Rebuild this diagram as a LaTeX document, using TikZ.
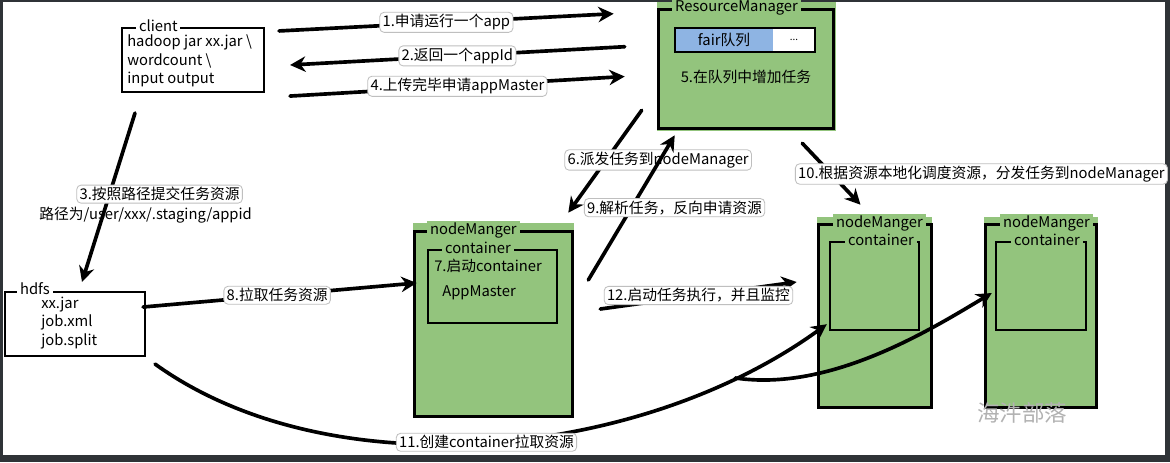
\documentclass[tikz,border=0pt]{standalone}
\usepackage{fontspec}
\setmainfont{Noto Sans CJK SC}
\usepackage{tikz}
\usetikzlibrary{arrows.meta,positioning,fit,calc}

\definecolor{nmgreen}{HTML}{93C47D}
\definecolor{qblue}{HTML}{8EB4E3}
\definecolor{framedark}{HTML}{2F3337}

\begin{document}
\begin{tikzpicture}[x=0.025cm, y=-0.025cm,
        txt/.style={inner sep=0pt, align=left, font=\fontsize{10.5}{13}\selectfont},
        ttl/.style={anchor=west, inner xsep=2pt, inner ysep=1pt, font=\fontsize{10.5}{12}\selectfont},
        plainbox/.style={draw=black, line width=1.5pt, inner sep=0pt},
        greenbg/.style={fill=nmgreen, inner sep=0pt},
        panelline/.style={draw=black, line width=2pt},
        cbox/.style={draw=black, line width=1.7pt, inner sep=0pt},
        qbox/.style={inner sep=0pt, outer sep=0pt, font=\fontsize{10.5}{12}\selectfont},
        lbl/.style={fill=white, draw=black!25, line width=0.6pt, rounded corners=3pt, inner xsep=2pt, inner ysep=1.5pt, font=\fontsize{10.5}{12}\selectfont},
        arrow/.style={-{Stealth[length=11pt,width=11pt]}, line width=2.6pt, line cap=round}
    ]

    \useasboundingbox (0,0) rectangle (1170,462);
    % frame of the screenshot
    \fill[framedark] (0,0) rectangle (1170,462);
    \fill[white] (3,2) rectangle (1165,455);

    % client (top left)
    \node[plainbox, fit={(122,28) (264,92)}] (client) {};
    \node[ttl, fill=white] (clientT) at (136,26) {client};
    \node[txt, anchor=west] (clientTxt) at (127,61) {hadoop jar xx.jar \textbackslash\\wordcount \textbackslash\\input output};

    % ResourceManager (top)
    \node[greenbg, fit={(657,2) (836,131)}] (rm) {};
    \draw[panelline] ([shift={(2,8)}]rm.north west) rectangle ([shift={(-3,-3)}]rm.south east);
    \node[ttl, fill=nmgreen] (rmT) at (672,8) {ResourceManager};
    \node[qbox, fill=qblue, minimum width=2.45cm, minimum height=0.6cm, anchor=north west] (fairq) at (675,28) {fair队列};
    \node[qbox, fill=white, minimum width=1.05cm, minimum height=0.6cm, right=0pt of fairq, font=\fontsize{7}{8}\selectfont] (qmore) {...};
    \draw[line width=1.6pt] (fairq.north west) rectangle (qmore.south east);
    \node[txt] (rmTask) at (746,77) {5.在队列中增加任务};

    % hdfs (left)
    \node[plainbox, fit={(5,292) (145,356)}] (hdfs) {};
    \node[ttl, fill=white] (hdfsT) at (17,289) {hdfs};
    \node[txt, anchor=west] (hdfsTxt) at (41,323) {xx.jar\\job.xml\\job.split};

    % nodeManager with AppMaster (middle)
    \node[greenbg, fit={(413,223) (574,417)}] (nm1) {};
    \draw[panelline] ([shift={(2,9)}]nm1.north west) rectangle ([shift={(-2,-1)}]nm1.south east);
    \node[ttl, fill=nmgreen] (nm1T) at (427,230) {nodeManger};
    \node[cbox, fit={(428,250) (557,323)}] (nm1c) {};
    \node[ttl, fill=nmgreen] (nm1cT) at (442,248) {container};
    \node[txt, anchor=west] (startAM) at (434,266) {7.启动container};
    \node[txt, anchor=west] (appMaster) at (442,293) {AppMaster};

    % second nodeManager
    \node[greenbg, fit={(817,217) (932,409)}] (nm2) {};
    \draw[panelline] ([shift={(2,8)}]nm2.north west) rectangle ([shift={(-1,-2)}]nm2.south east);
    \node[ttl, fill=nmgreen] (nm2T) at (833,223) {nodeManger};
    \node[cbox, fit={(830,242) (919,330)}] (nm2c) {};
    \node[ttl, fill=nmgreen] (nm2cT) at (845,240) {container};

    % third nodeManager
    \node[greenbg, fit={(984,217) (1098,409)}] (nm3) {};
    \draw[panelline] ([shift={(2,8)}]nm3.north west) rectangle ([shift={(-2,-2)}]nm3.south east);
    \node[ttl, fill=nmgreen] (nm3T) at (1000,223) {nodeManger};
    \node[cbox, fit={(996,242) (1086,330)}] (nm3c) {};
    \node[ttl, fill=nmgreen] (nm3cT) at (1011,240) {container};

    % client <-> ResourceManager
    \draw[arrow] ([shift={(14,4)}]client.north east) -- node[lbl] (l1) {1.申请运行一个app} ([shift={(-43,12)}]rm.north west);
    \draw[arrow] ([shift={(-32,45)}]rm.north west) -- node[lbl] (l2) {2.返回一个appId} ([shift={(25,5)}]client.east);
    \draw[arrow] ([shift={(25,3)}]client.south east) -- node[lbl] (l4) {4.上传完毕申请appMaster} ([shift={(-32,10)}]rm.west);

    % client -> hdfs
    \draw[arrow] ([shift={(-58,20)}]client.south) -- node[lbl, pos=0.48, xshift=1.25cm] (l3) {3.按照路径提交任务资源} ([shift={(7,-9)}]hdfs.north);
    \node[txt, below=2pt of l3, xshift=-0.35cm] (l3b) {路径为/user/xxx/.staging/appid};

    % ResourceManager <-> nodeManager
    \draw[arrow] ([shift={(-15,-21)}]rm.south west) -- node[lbl, pos=0.485, xshift=1.3cm] (l6) {6.派发任务到nodeManager} ([shift={(-6,-10)}]nm1.north east);
    \draw[arrow] ([shift={(14,-40)}]nm1.east) -- node[lbl, pos=0.5, xshift=1.075cm] (l9) {9.解析任务，反向申请资源} ([shift={(18,4)}]rm.south west);
    \draw[arrow] ([shift={(-34,12)}]rm.south east) -- node[lbl, pos=0.5, xshift=3.75cm] (l10) {10.根据资源本地化调度资源，分发任务到nodeManager} ([shift={(-14,-12)}]nm2.north);

    % hdfs -> nodeManager, AppMaster -> nodeManager
    \draw[arrow] ([shift={(-3,-17)}]hdfs.east) -- node[lbl, pos=0.49] (l8) {8.拉取任务资源} ([shift={(4,-37)}]nm1.west);
    \draw[arrow] ([shift={(26,-11)}]nm1.east) -- node[lbl, pos=0.5] (l12) {12.启动任务执行，并且监控} ([shift={(-20,-31)}]nm2.west);

    % containers created from hdfs
    \draw[arrow] ([shift={(9,7)}]hdfs.south east) .. controls (330,490) and (640,460) .. ([shift={(-2,-7)}]nm2c.south west)
        node[lbl, pos=0.5] (l11) {11.创建container拉取资源} coordinate[pos=0.85] (split);
    \draw[arrow] (split) .. controls (830,392) and (930,330) .. ([shift={(-3,7)}]nm3c.west);

    % watermark
    \node[text=black!30, font=\fontsize{16}{18}\selectfont] (wmark) at (1022,413) {海汼部落};

\end{tikzpicture}
\end{document}
